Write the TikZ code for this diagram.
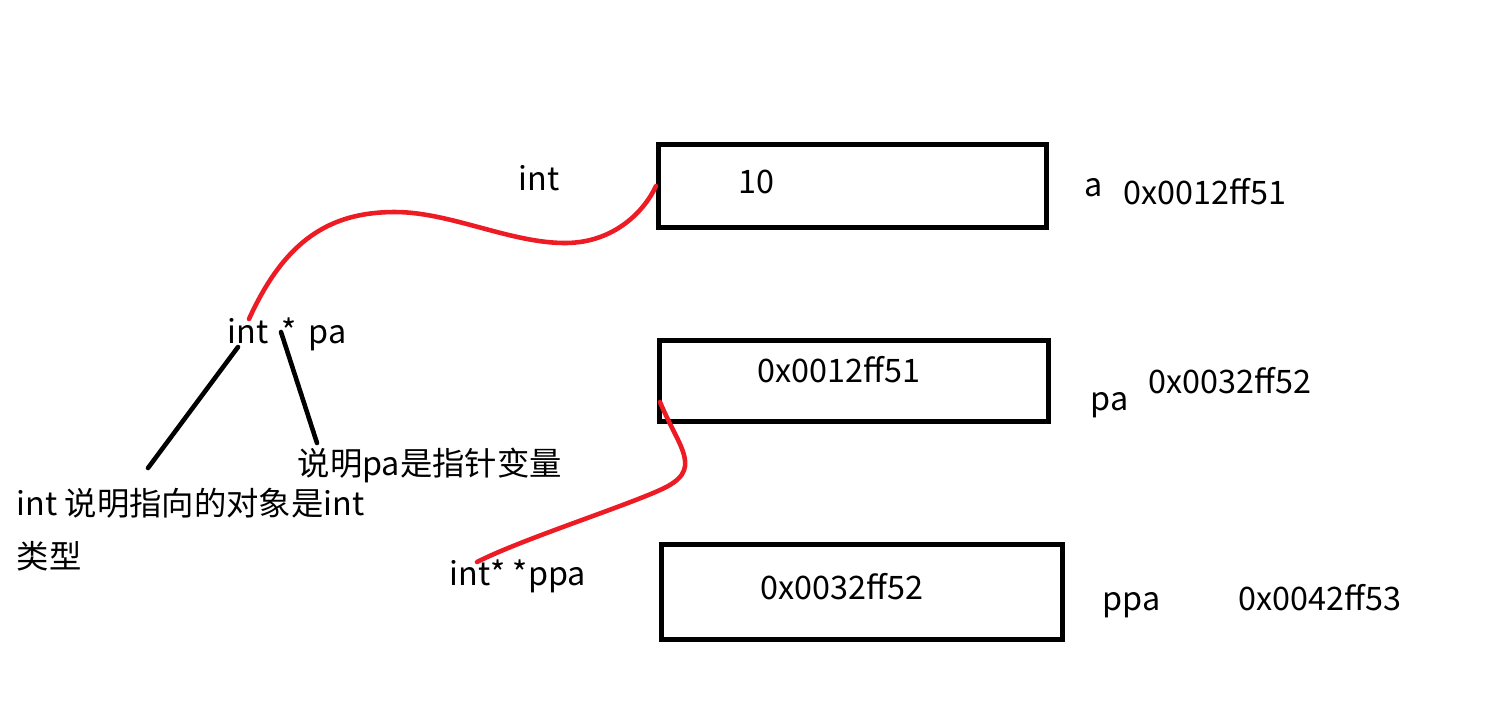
\documentclass[tikz,border=0pt]{standalone}
\usepackage{fontspec}
\setmainfont{Noto Sans CJK SC}
\definecolor{penred}{RGB}{237,28,36}
\begin{document}
\begin{tikzpicture}[x=0.01cm, y=-0.01cm]
    % 定义样式
    \tikzstyle{membox}=[draw, line width=1.4pt, inner sep=0pt, anchor=north west]
    \tikzstyle{txt}=[inner sep=0pt, anchor=base west, font=\fontsize{9.2}{11}\selectfont]
    \tikzstyle{redline}=[line width=1.3pt, penred, line cap=round]
    \tikzstyle{blackline}=[line width=1.3pt, line cap=round]

    \useasboundingbox (0,0) rectangle (1488,726);

    % 三个内存格子
    \node[membox, minimum width=3.88cm, minimum height=0.83cm] (boxA) at (656,142) {};
    \node[membox, minimum width=3.89cm, minimum height=0.81cm] (boxPa) at (657,338) {};
    \node[membox, minimum width=4.01cm, minimum height=0.95cm] (boxPpa) at (659,542) {};

    % 格子里的值
    \node[txt] (valA) at (738,193) {10};
    \node[txt] (valPa) at (757,382) {0x0012ff51};
    \node[txt] (valPpa) at (760,599) {0x0032ff52};

    % 变量名和地址
    \node[txt] (nameA) at (1084,196) {a};
    \node[txt] (addrA) at (1123,204) {0x0012ff51};
    \node[txt] (namePa) at (1090,410) {pa};
    \node[txt] (addrPa) at (1148,393) {0x0032ff52};
    \node[txt] (namePpa) at (1102,610) {ppa};
    \node[txt] (addrPpa) at (1238,610) {0x0042ff53};

    % 左边的说明
    \node[txt] (typeInt) at (518,190) {int};
    \node[txt] (declPa) at (227,343) {int \,*\, pa};
    \node[txt] (noteStar) at (297,475) {说明pa是指针变量};
    \node[txt] (noteInt) at (16,515) {int 说明指向的对象是int};
    \node[txt] (noteType) at (16,568) {类型};
    \node[txt] (declPpa) at (449,585) {int* *ppa};

    % 连线的端点
    \coordinate (intFoot) at (238,347);
    \coordinate (intEnd) at (148,468);
    \coordinate (starFoot) at (281,332);
    \coordinate (starEnd) at (317,443);
    \coordinate (paTop) at (249,319);
    \coordinate (paBox) at (660,402);
    \coordinate (ppaTop) at (477,562);

    % 黑线
    \draw[blackline] (intFoot) -- (intEnd);
    \draw[blackline] (starFoot) -- (starEnd);

    % 红线 pa -> a
    \draw[redline] (paTop) .. controls (285,240) and (330,212) .. (395,212)
        .. controls (450,212) and (510,243) .. (565,243)
        .. controls (615,243) and (645,210) .. (boxA.west);

    % 红线 ppa -> pa
    \draw[redline] (paBox) .. controls (680,450) and (705,470) .. (660,490)
        .. controls (620,508) and (520,540) .. (ppaTop);
\end{tikzpicture}
\end{document}
